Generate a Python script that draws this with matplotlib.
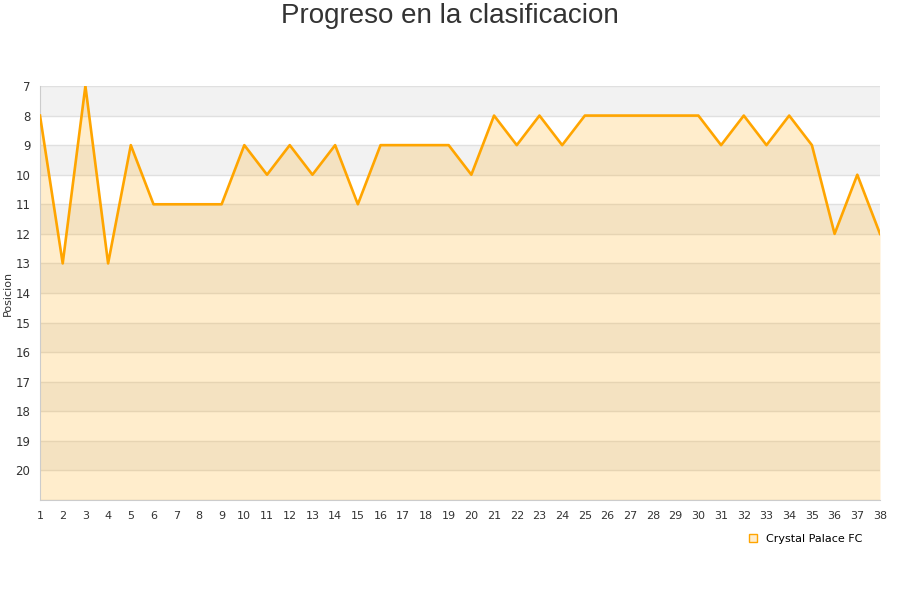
import matplotlib
matplotlib.use("Agg")
import matplotlib.pyplot as plt
from matplotlib.lines import Line2D

jornadas = list(range(1, 39))
posiciones = [8, 13, 7, 13, 9, 11, 11, 11, 11, 9, 10, 9, 10, 9, 11, 9, 9, 9, 9, 10,
              8, 9, 8, 9, 8, 8, 8, 8, 8, 8, 9, 8, 9, 8, 9, 12, 10, 12]
y_ticks = list(range(7, 21))
team = "Crystal Palace FC"
title = "Progreso en la clasificacion"
ylabel = "Posicion"

fig = plt.figure(figsize=(9, 6), dpi=100)
ax = fig.add_axes([40/900, 100/600, 840/900, 414/600])

ymin, ymax = 7, 21
for v in range(ymin, ymax):
    if v % 2 == 1:
        ax.axhspan(v, v + 1, color="#f2f2f2", zorder=0, lw=0)
for v in range(ymin, ymax + 1):
    ax.axhline(v, color="#e0e0e0", lw=1, zorder=1)

ax.fill_between(jornadas, posiciones, ymax, color="#ffa500", alpha=0.2, lw=0, zorder=2)
ax.plot(jornadas, posiciones, color="#ffa500", lw=1.9, zorder=3)

ax.set_xlim(1, 38)
ax.set_ylim(ymax, ymin)
ax.set_yticks(y_ticks)
ax.set_xticks(jornadas)
ax.tick_params(axis="both", length=0, colors="#333333")
ax.tick_params(axis="x", pad=8, labelsize=8)
ax.tick_params(axis="y", pad=7, labelsize=8.5)
for s in ["top", "right"]:
    ax.spines[s].set_visible(False)
ax.spines["left"].set_color("#cccccc")
ax.spines["bottom"].set_color("#cccccc")

fig.text(8/900, 1 - 293/600, ylabel, rotation=90, ha="center", va="center",
         fontsize=8, color="#333333")
fig.text(0.5, 1 - 16/600, title, ha="center", va="center", fontsize=20,
         color="#333333", family="Liberation Sans")

handle = Line2D([], [], marker="s", ls="none", markersize=6,
                markerfacecolor="#ffedcc", markeredgecolor="#ffa500", markeredgewidth=1)
fig.legend([handle], [team], loc="center left",
           bbox_to_anchor=(742/900, 1 - 539/600), frameon=False,
           fontsize=8, handletextpad=0.7, borderpad=0, handlelength=1)

fig.savefig("out.png", dpi=100)
